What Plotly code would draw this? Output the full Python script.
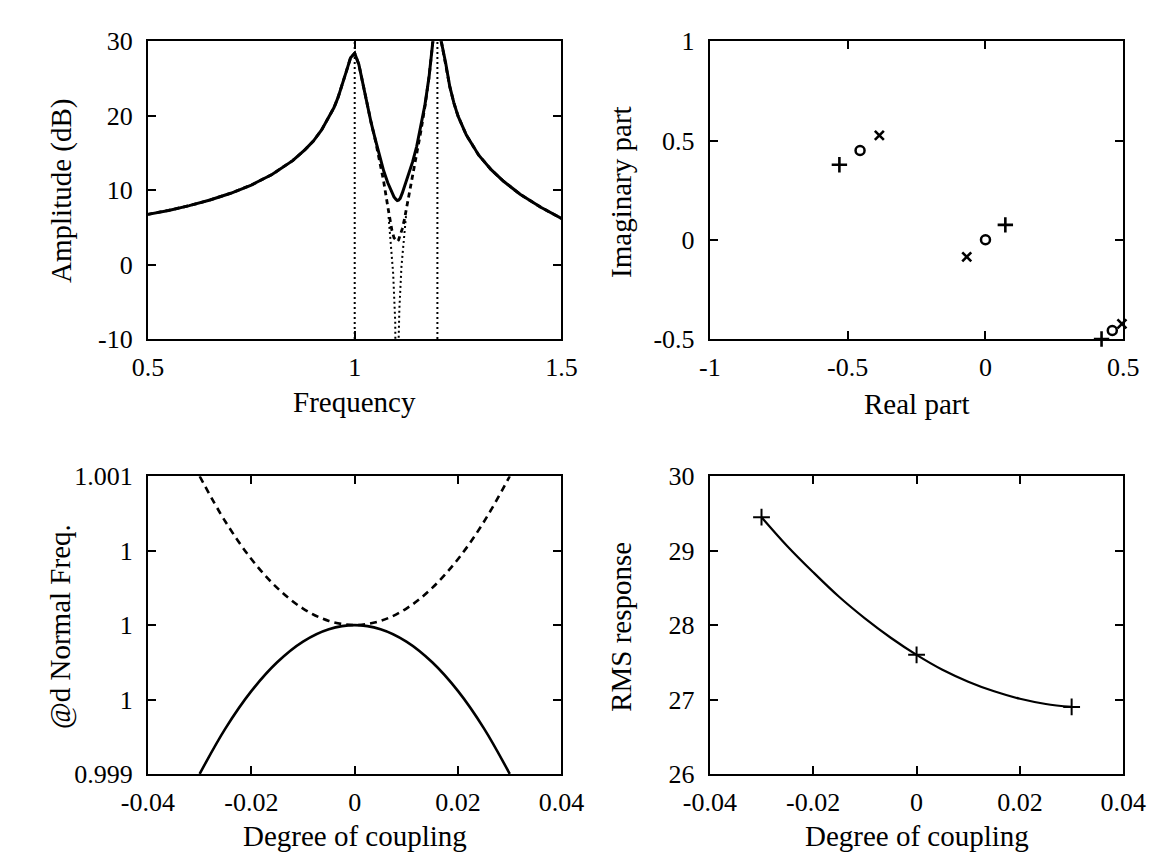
import plotly.graph_objects as go

# ---------------- Panel 1: frequency response ----------------
freq = [0.5, 0.55, 0.6, 0.65, 0.7, 0.75, 0.8, 0.85, 0.88, 0.9, 0.92, 0.94, 0.95, 0.96,
        0.97, 0.98, 0.99, 1.0, 1.01, 1.02, 1.03, 1.04, 1.05, 1.06, 1.07, 1.08, 1.09,
        1.095, 1.1, 1.103, 1.106, 1.11, 1.115, 1.12, 1.13, 1.14, 1.15, 1.16, 1.17,
        1.18, 1.19, 1.2, 1.21, 1.22, 1.23, 1.24, 1.25, 1.27, 1.3, 1.33, 1.36, 1.4,
        1.45, 1.5]
amp_solid = [6.75, 7.28, 7.92, 8.68, 9.58, 10.69, 12.10, 13.97, 15.45, 16.6, 18.1, 20.0,
             21.1, 22.5, 24.1, 26.0, 27.8, 28.4, 26.9, 24.2, 21.7, 19.0, 16.8, 14.5, 12.6,
             11.0, 9.7, 9.1, 8.75, 8.6, 8.65, 8.9, 9.6, 10.4, 11.9, 13.8, 15.9, 18.5, 21.5,
             25.3, 30.5, 32.0, 29.8, 27.1, 23.9, 21.7, 19.95, 17.4, 14.7, 12.75, 11.2,
             9.45, 7.7, 6.2]
amp_dashed = [6.75, 7.28, 7.92, 8.68, 9.58, 10.69, 12.10, 13.97, 15.45, 16.6, 18.1, 20.0,
              21.1, 22.5, 24.1, 26.0, 27.8, 28.4, 26.9, 24.2, 21.7, 19.0, 16.7, 14.0, 11.2,
              7.8, 4.6, 3.6, 3.2, 3.1, 3.3, 3.9, 4.8, 6.0, 8.9, 12.0, 14.9, 17.9, 21.3,
              25.3, 30.5, 32.0, 29.8, 27.1, 23.9, 21.7, 19.95, 17.4, 14.7, 12.75, 11.2,
              9.45, 7.7, 6.2]
freq_undamped = [1.082, 1.088, 1.093, 1.098, 1.1, 1.1025, 1.105, 1.106, 1.108, 1.113,
                 1.118, 1.124]
amp_undamped = [6.4, 2.6, -1.2, -7.7, -12.7, -40.0, -13.0, -10.0, -6.0, -0.3, 3.3, 6.5]
natural_freqs = [1.0, 1.2]
amp_limits = [-10, 30]
p1_xticks = [0.5, 1, 1.5]
p1_xlabels = ["0.5", "1", "1.5"]
p1_yticks = [-10, 0, 10, 20, 30]
p1_ylabels = ["-10", "0", "10", "20", "30"]

# ---------------- Panel 2: poles / zeros ----------------
plus_re = [-0.53, 0.072, 0.421]
plus_im = [0.378, 0.075, -0.50]
circ_re = [-0.455, 0.0, 0.46]
circ_im = [0.45, 0.0, -0.457]
xmark_re = [-0.385, -0.068, 0.495]
xmark_im = [0.526, -0.086, -0.424]
p2_xticks = [-1, -0.5, 0, 0.5]
p2_xlabels = ["-1", "-0.5", "0", "0.5"]
p2_yticks = [-0.5, 0, 0.5, 1]
p2_ylabels = ["-0.5", "0", "0.5", "1"]

# ---------------- Panel 3: normal frequencies ----------------
coupling = [-0.03, -0.025, -0.02, -0.015, -0.01, -0.005, 0.0, 0.005, 0.01, 0.015,
            0.02, 0.025, 0.03]
nf_lower = [0.999, 0.999306, 0.999556, 0.99975, 0.999889, 0.999972, 1.0, 0.999972,
            0.999889, 0.99975, 0.999556, 0.999306, 0.999]
nf_upper = [1.001, 1.000694, 1.000444, 1.00025, 1.000111, 1.000028, 1.0, 1.000028,
            1.000111, 1.00025, 1.000444, 1.000694, 1.001]
p3_xticks = [-0.04, -0.02, 0, 0.02, 0.04]
p3_xlabels = ["-0.04", "-0.02", "0", "0.02", "0.04"]
p3_yticks = [0.999, 0.9995, 1.0, 1.0005, 1.001]
p3_ylabels = ["0.999", "1", "1", "1", "1.001"]

# ---------------- Panel 4: RMS response ----------------
rms_curve = [29.45, 29.06, 28.71, 28.38, 28.09, 27.83, 27.6, 27.40, 27.24, 27.11,
             27.01, 26.94, 26.9]
rms_pts_x = [-0.03, 0.0, 0.03]
rms_pts_y = [29.45, 27.6, 26.9]
p4_xticks = [-0.04, -0.02, 0, 0.02, 0.04]
p4_xlabels = ["-0.04", "-0.02", "0", "0.02", "0.04"]
p4_yticks = [26, 27, 28, 29, 30]
p4_ylabels = ["26", "27", "28", "29", "30"]

FONT = "Liberation Serif, Times New Roman, serif"
TICK_SIZE = 26
TITLE_SIZE = 29
W, H = 1168, 865

fig = go.Figure()
K = "black"

# panel 1
for f in natural_freqs:
    fig.add_trace(go.Scatter(x=[f, f], y=amp_limits, mode="lines",
                             line=dict(color=K, width=2, dash="2px,3px"),
                             xaxis="x", yaxis="y", showlegend=False))
fig.add_trace(go.Scatter(x=freq_undamped, y=amp_undamped, mode="lines",
                         line=dict(color=K, width=2, dash="2px,3px"),
                         xaxis="x", yaxis="y", showlegend=False))
fig.add_trace(go.Scatter(x=freq, y=amp_dashed, mode="lines",
                         line=dict(color=K, width=2.8, dash="5px,4px"),
                         xaxis="x", yaxis="y", showlegend=False))
fig.add_trace(go.Scatter(x=freq, y=amp_solid, mode="lines",
                         line=dict(color=K, width=3),
                         xaxis="x", yaxis="y", showlegend=False))

# panel 2
fig.add_trace(go.Scatter(x=plus_re, y=plus_im, mode="markers", cliponaxis=False,
                         marker=dict(symbol="cross-thin", size=11,
                                     line=dict(color=K, width=2.6)),
                         xaxis="x2", yaxis="y2", showlegend=False))
fig.add_trace(go.Scatter(x=circ_re, y=circ_im, mode="markers", cliponaxis=False,
                         marker=dict(symbol="circle-open", size=9, color=K,
                                     line=dict(color=K, width=2.5)),
                         xaxis="x2", yaxis="y2", showlegend=False))
fig.add_trace(go.Scatter(x=xmark_re, y=xmark_im, mode="markers", cliponaxis=False,
                         marker=dict(symbol="x-thin", size=9,
                                     line=dict(color=K, width=2.6)),
                         xaxis="x2", yaxis="y2", showlegend=False))

# panel 3
fig.add_trace(go.Scatter(x=coupling, y=nf_upper, mode="lines", line_shape="spline",
                         line=dict(color=K, width=2.6, dash="7px,5px"),
                         xaxis="x3", yaxis="y3", showlegend=False))
fig.add_trace(go.Scatter(x=coupling, y=nf_lower, mode="lines", line_shape="spline",
                         line=dict(color=K, width=2.6),
                         xaxis="x3", yaxis="y3", showlegend=False))

# panel 4
fig.add_trace(go.Scatter(x=coupling, y=rms_curve, mode="lines", line_shape="spline",
                         line=dict(color=K, width=2.2),
                         xaxis="x4", yaxis="y4", showlegend=False))
fig.add_trace(go.Scatter(x=rms_pts_x, y=rms_pts_y, mode="markers", cliponaxis=False,
                         marker=dict(symbol="cross-thin", size=12,
                                     line=dict(color=K, width=2)),
                         xaxis="x4", yaxis="y4", showlegend=False))


def ax(domain, rng, tv, tt, anchor, is_y):
    d = dict(domain=domain, range=rng, tickmode="array", tickvals=tv, ticktext=tt,
             showline=True, linecolor=K, linewidth=2, mirror="ticks",
             ticks="inside", ticklen=8, tickwidth=1.6, tickcolor=K,
             showgrid=False, zeroline=False, anchor=anchor,
             tickfont=dict(family=FONT, size=TICK_SIZE, color=K))
    d["ticklabelstandoff"] = 8 if is_y else 4
    return d


XL = [118 / W, 550 / W]
XR = [705 / W, 1137 / W]
YT = [1 - 328 / H, 1 - 20 / H]
YB = [1 - 778 / H, 1 - 470 / H]

annotations = []


def xtitle(text, cx, cy):
    annotations.append(dict(text=text, x=cx / W, y=1 - cy / H, xref="paper", yref="paper",
                            showarrow=False, xanchor="center", yanchor="middle",
                            font=dict(family=FONT, size=TITLE_SIZE, color=K)))


def ytitle(text, cx, cy):
    annotations.append(dict(text=text, x=cx / W, y=1 - cy / H, xref="paper", yref="paper",
                            showarrow=False, xanchor="center", yanchor="middle",
                            textangle=-90,
                            font=dict(family=FONT, size=TITLE_SIZE, color=K)))


xtitle("Frequency", 334, 393)
xtitle("Real part", 921, 395)
xtitle("Degree of coupling", 334, 842)
xtitle("Degree of coupling", 921, 842)
ytitle("Amplitude (dB)", 27, 175)
ytitle("Imaginary part", 612, 176)
ytitle("@d Normal Freq.", 26, 625)
ytitle("RMS response", 612, 626)

fig.update_layout(
    width=W, height=H, autosize=False,
    margin=dict(l=0, r=0, t=0, b=0),
    paper_bgcolor="white", plot_bgcolor="white",
    xaxis=ax(XL, [0.5, 1.5], p1_xticks, p1_xlabels, "y", False),
    yaxis=ax(YT, [-10, 30], p1_yticks, p1_ylabels, "x", True),
    xaxis2=ax(XR, [-1, 0.5], p2_xticks, p2_xlabels, "y2", False),
    yaxis2=ax(YT, [-0.5, 1], p2_yticks, p2_ylabels, "x2", True),
    xaxis3=ax(XL, [-0.04, 0.04], p3_xticks, p3_xlabels, "y3", False),
    yaxis3=ax(YB, [0.999, 1.001], p3_yticks, p3_ylabels, "x3", True),
    xaxis4=ax(XR, [-0.04, 0.04], p4_xticks, p4_xlabels, "y4", False),
    yaxis4=ax(YB, [26, 30], p4_yticks, p4_ylabels, "x4", True),
    annotations=annotations,
)

fig.write_html("out.html")
